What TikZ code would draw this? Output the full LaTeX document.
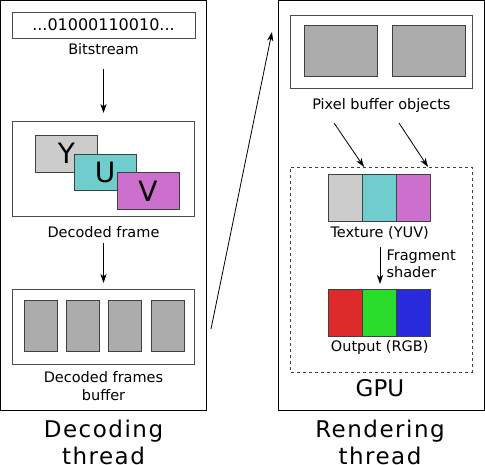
\documentclass[tikz,border=0pt]{standalone}
\usepackage{fontspec}
\setmainfont{DejaVu Sans}
\usetikzlibrary{arrows.meta}
\begin{document}
\begin{tikzpicture}[x=1pt,y=-1pt,
  every node/.style={inner sep=0pt, outer sep=0pt},
  outer/.style={draw=black, line width=1pt},
  inbox/.style={draw=black!70, line width=0.9pt, fill=white},
  cell/.style={draw=black!75, line width=0.9pt},
  lbl/.style={font=\fontsize{14.5}{16}\selectfont},
  big/.style={font=\fontsize{23}{26}\selectfont\addfontfeature{LetterSpace=6.5}, anchor=base},
  arr/.style={-{Stealth[length=9pt,width=6pt,inset=2.5pt]}, line width=0.8pt},
  ygray/.style={fill=gray!40},
  ucyan/.style={fill={rgb,255:red,111;green,205;blue,205}},
  vmag/.style={fill={rgb,255:red,205;green,111;blue,205}},
  pgray/.style={fill=gray!65}
]
\useasboundingbox[fill=white] (0,0) rectangle (485,465);

% outer boxes
\node[outer, minimum width=206pt, minimum height=409pt] (left) at (103.5,205.5) {};
\node[outer, minimum width=206pt, minimum height=409pt] (right) at (381,205.5) {};

% Decoding thread
\node[inbox, minimum width=183pt, minimum height=26pt, font=\fontsize{16}{18}\selectfont] (bits) at (103.5,25) {...01000110010...};
\node[lbl] (bitlbl) at (103.5,49) {Bitstream};
\coordinate (a1s) at (103.5,69);
\coordinate (a1e) at (103.5,113);
\draw[arr] (a1s) -- (a1e);

\node[inbox, minimum width=182pt, minimum height=95.5pt] (frame) at (103.5,169) {};
\node[cell, ygray, minimum width=62pt, minimum height=37pt, font=\fontsize{28}{30}\selectfont] (Y) at (66.5,153.5) {Y};
\node[cell, ucyan, minimum width=62pt, minimum height=36pt, font=\fontsize{28}{30}\selectfont] (U) at (105,172) {U};
\node[cell, vmag, minimum width=62pt, minimum height=36.5pt, font=\fontsize{28}{30}\selectfont] (V) at (148,191) {V};
\node[lbl] (framelbl) at (103.5,232) {Decoded frame};
\coordinate (a2s) at (103.5,243);
\coordinate (a2e) at (103.5,283);
\draw[arr] (a2s) -- (a2e);

\node[inbox, minimum width=182pt, minimum height=75pt] (buf) at (103.5,326.5) {};
\foreach \i/\x in {1/40.5,2/83,3/125,4/167.5}{
  \node[cell, pgray, minimum width=33pt, minimum height=51pt] (b\i) at (\x,325.5) {};
}
\node[lbl, align=center] (buflbl) at (103.5,386) {Decoded frames\\[1.5pt]buffer};
\node[big] (dthr1) at (103.5,437.7) {Decoding};
\node[big] (dthr2) at (103.5,464) {thread};

% long arrow
\coordinate (la1) at (211,329);
\coordinate (la2) at (272,32);
\draw[arr] (la1) -- (la2);

% Rendering thread
\node[inbox, minimum width=181.3pt, minimum height=73pt] (pbo) at (381.4,51.5) {};
\node[cell, pgray, minimum width=73.7pt, minimum height=51pt] (p1) at (341,50.5) {};
\node[cell, pgray, minimum width=73pt, minimum height=51pt] (p2) at (428.5,50.5) {};
\node[lbl] (pbolbl) at (381.4,106) {Pixel buffer objects};

\node[draw=black!75, dashed, line width=0.8pt, minimum width=181.3pt, minimum height=205pt] (gpu) at (381.4,269.5) {};
\coordinate (b1s) at (334,123);
\coordinate (b1e) at (364,167);
\coordinate (b2s) at (399,123);
\coordinate (b2e) at (428,167);
\draw[arr] (b1s) -- (b1e);
\draw[arr] (b2s) -- (b2e);

\node[cell, ygray, minimum width=34pt, minimum height=47.3pt] (ty) at (345.7,198.3) {};
\node[cell, ucyan, minimum width=34pt, minimum height=47.3pt] (tu) at (379.7,198.3) {};
\node[cell, vmag, minimum width=34pt, minimum height=47.3pt] (tv) at (413.7,198.3) {};
\node[lbl] (texlbl) at (379.7,233) {Texture (YUV)};
\coordinate (fs) at (380,247);
\coordinate (fe) at (380,284);
\draw[arr] (fs) -- (fe);
\node[lbl, align=left, anchor=west] (frag) at (386.5,264) {Fragment\\[1.5pt]shader};

\node[cell, fill={rgb,255:red,221;green,42;blue,42}, minimum width=34pt, minimum height=47pt] (tr) at (345.7,312.5) {};
\node[cell, fill={rgb,255:red,42;green,221;blue,42}, minimum width=34pt, minimum height=47pt] (tg) at (379.7,312.5) {};
\node[cell, fill={rgb,255:red,42;green,42;blue,221}, minimum width=34pt, minimum height=47pt] (tb) at (413.7,312.5) {};
\node[lbl] (outlbl) at (379.7,348) {Output (RGB)};
\node[font=\fontsize{23}{25}\selectfont] (gpulbl) at (380,388) {GPU};
\node[big] (rthr1) at (380,437.7) {Rendering};
\node[big] (rthr2) at (380,464) {thread};
\end{tikzpicture}
\end{document}
